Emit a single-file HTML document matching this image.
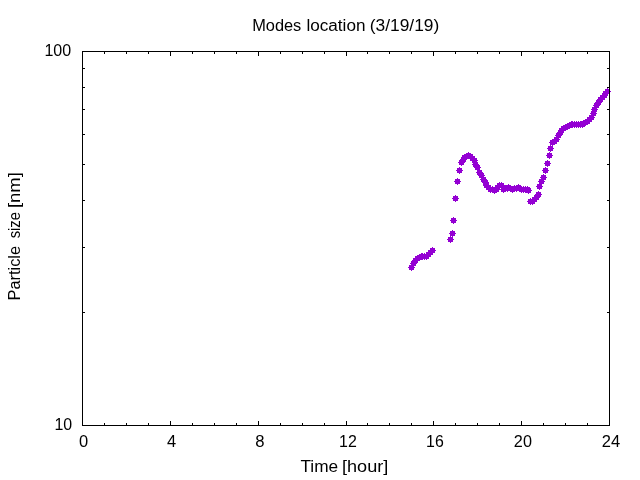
<!DOCTYPE html>
<html><head><meta charset="utf-8"><title>Modes location</title>
<style>
html,body{margin:0;padding:0;background:#fff;}
svg{display:block;}
text{font-family:"Liberation Sans",sans-serif;font-size:16px;fill:#000;}
</style></head><body>
<svg width="640" height="480" viewBox="0 0 640 480">
<rect width="640" height="480" fill="#fff"/>
<defs><path id="p" d="M-2.5-2.5h5v5h-5zM-3.5-.5h7v1h-7zM-.5-3.5h1v7h-1z"/></defs>

<g fill="#9400d3" shape-rendering="crispEdges">
<use href="#p" x="411.5" y="267.5"/>
<use href="#p" x="413.5" y="263.5"/>
<use href="#p" x="415.5" y="260.5"/>
<use href="#p" x="417.5" y="258.5"/>
<use href="#p" x="419.5" y="257.5"/>
<use href="#p" x="421.5" y="256.5"/>
<use href="#p" x="422.5" y="256.5"/>
<use href="#p" x="424.5" y="256.5"/>
<use href="#p" x="426.5" y="256.5"/>
<use href="#p" x="428.5" y="254.5"/>
<use href="#p" x="430.5" y="252.5"/>
<use href="#p" x="432.5" y="250.5"/>
<use href="#p" x="450.5" y="239.5"/>
<use href="#p" x="452.5" y="233.5"/>
<use href="#p" x="453.5" y="220.5"/>
<use href="#p" x="455.5" y="198.5"/>
<use href="#p" x="457.5" y="181.5"/>
<use href="#p" x="459.5" y="170.5"/>
<use href="#p" x="461.5" y="162.5"/>
<use href="#p" x="463.5" y="159.5"/>
<use href="#p" x="464.5" y="157.5"/>
<use href="#p" x="466.5" y="156.5"/>
<use href="#p" x="468.5" y="155.5"/>
<use href="#p" x="470.5" y="156.5"/>
<use href="#p" x="472.5" y="158.5"/>
<use href="#p" x="474.5" y="160.5"/>
<use href="#p" x="475.5" y="164.5"/>
<use href="#p" x="477.5" y="167.5"/>
<use href="#p" x="479.5" y="172.5"/>
<use href="#p" x="481.5" y="175.5"/>
<use href="#p" x="483.5" y="179.5"/>
<use href="#p" x="485.5" y="182.5"/>
<use href="#p" x="486.5" y="185.5"/>
<use href="#p" x="488.5" y="187.5"/>
<use href="#p" x="490.5" y="189.5"/>
<use href="#p" x="492.5" y="189.5"/>
<use href="#p" x="494.5" y="190.5"/>
<use href="#p" x="496.5" y="189.5"/>
<use href="#p" x="497.5" y="187.5"/>
<use href="#p" x="499.5" y="185.5"/>
<use href="#p" x="501.5" y="185.5"/>
<use href="#p" x="503.5" y="189.5"/>
<use href="#p" x="505.5" y="188.5"/>
<use href="#p" x="507.5" y="188.5"/>
<use href="#p" x="508.5" y="187.5"/>
<use href="#p" x="510.5" y="188.5"/>
<use href="#p" x="512.5" y="189.5"/>
<use href="#p" x="514.5" y="188.5"/>
<use href="#p" x="516.5" y="188.5"/>
<use href="#p" x="518.5" y="187.5"/>
<use href="#p" x="519.5" y="188.5"/>
<use href="#p" x="521.5" y="189.5"/>
<use href="#p" x="523.5" y="189.5"/>
<use href="#p" x="525.5" y="189.5"/>
<use href="#p" x="527.5" y="189.5"/>
<use href="#p" x="528.5" y="190.5"/>
<use href="#p" x="530.5" y="201.5"/>
<use href="#p" x="532.5" y="201.5"/>
<use href="#p" x="534.5" y="199.5"/>
<use href="#p" x="536.5" y="197.5"/>
<use href="#p" x="538.5" y="194.5"/>
<use href="#p" x="539.5" y="186.5"/>
<use href="#p" x="541.5" y="181.5"/>
<use href="#p" x="543.5" y="177.5"/>
<use href="#p" x="545.5" y="170.5"/>
<use href="#p" x="547.5" y="163.5"/>
<use href="#p" x="549.5" y="155.5"/>
<use href="#p" x="550.5" y="148.5"/>
<use href="#p" x="552.5" y="142.5"/>
<use href="#p" x="554.5" y="141.5"/>
<use href="#p" x="556.5" y="139.5"/>
<use href="#p" x="558.5" y="135.5"/>
<use href="#p" x="560.5" y="132.5"/>
<use href="#p" x="561.5" y="130.5"/>
<use href="#p" x="563.5" y="128.5"/>
<use href="#p" x="565.5" y="127.5"/>
<use href="#p" x="567.5" y="126.5"/>
<use href="#p" x="569.5" y="125.5"/>
<use href="#p" x="571.5" y="124.5"/>
<use href="#p" x="572.5" y="124.5"/>
<use href="#p" x="574.5" y="124.5"/>
<use href="#p" x="576.5" y="124.5"/>
<use href="#p" x="578.5" y="124.5"/>
<use href="#p" x="580.5" y="124.5"/>
<use href="#p" x="582.5" y="124.5"/>
<use href="#p" x="583.5" y="123.5"/>
<use href="#p" x="585.5" y="122.5"/>
<use href="#p" x="587.5" y="121.5"/>
<use href="#p" x="589.5" y="119.5"/>
<use href="#p" x="591.5" y="117.5"/>
<use href="#p" x="593.5" y="113.5"/>
<use href="#p" x="594.5" y="109.5"/>
<use href="#p" x="596.5" y="105.5"/>
<use href="#p" x="598.5" y="102.5"/>
<use href="#p" x="600.5" y="99.5"/>
<use href="#p" x="602.5" y="97.5"/>
<use href="#p" x="604.5" y="95.5"/>
<use href="#p" x="605.5" y="93.5"/>
<use href="#p" x="607.5" y="91.5"/>
</g>
<path d="M82.5 425.5v-4.5M82.5 51.5v4.5M104.5 425.5v-2.5M104.5 51.5v2.5M126.5 425.5v-2.5M126.5 51.5v2.5M148.5 425.5v-2.5M148.5 51.5v2.5M170.5 425.5v-4.5M170.5 51.5v4.5M192.5 425.5v-2.5M192.5 51.5v2.5M214.5 425.5v-2.5M214.5 51.5v2.5M236.5 425.5v-2.5M236.5 51.5v2.5M258.5 425.5v-4.5M258.5 51.5v4.5M280.5 425.5v-2.5M280.5 51.5v2.5M302.5 425.5v-2.5M302.5 51.5v2.5M324.5 425.5v-2.5M324.5 51.5v2.5M346.5 425.5v-4.5M346.5 51.5v4.5M367.5 425.5v-2.5M367.5 51.5v2.5M389.5 425.5v-2.5M389.5 51.5v2.5M411.5 425.5v-2.5M411.5 51.5v2.5M433.5 425.5v-4.5M433.5 51.5v4.5M455.5 425.5v-2.5M455.5 51.5v2.5M477.5 425.5v-2.5M477.5 51.5v2.5M499.5 425.5v-2.5M499.5 51.5v2.5M521.5 425.5v-4.5M521.5 51.5v4.5M543.5 425.5v-2.5M543.5 51.5v2.5M565.5 425.5v-2.5M565.5 51.5v2.5M587.5 425.5v-2.5M587.5 51.5v2.5M609.5 425.5v-4.5M609.5 51.5v4.5M82.5 312.5h2.5M609.5 312.5h-2.5M82.5 247.5h2.5M609.5 247.5h-2.5M82.5 200.5h2.5M609.5 200.5h-2.5M82.5 164.5h2.5M609.5 164.5h-2.5M82.5 134.5h2.5M609.5 134.5h-2.5M82.5 109.5h2.5M609.5 109.5h-2.5M82.5 87.5h2.5M609.5 87.5h-2.5M82.5 68.5h2.5M609.5 68.5h-2.5M82.5 51.5h4.5M609.5 51.5h-4.5M82.5 425.5h4.5M609.5 425.5h-4.5" stroke="#000" stroke-width="1" fill="none" shape-rendering="crispEdges"/>
<rect x="82.5" y="51.5" width="527.0" height="374.0" fill="none" stroke="#000" stroke-width="1" shape-rendering="crispEdges"/>
<text y="30.7"><tspan x="252.15" textLength="49.16" lengthAdjust="spacingAndGlyphs">Modes</tspan> <tspan x="306.44" textLength="59.03" lengthAdjust="spacingAndGlyphs">location</tspan> <tspan x="369.75" textLength="69.49" lengthAdjust="spacingAndGlyphs">(3/19/19)</tspan></text>
<text y="471.6"><tspan x="300.43" textLength="37.66" lengthAdjust="spacingAndGlyphs">Time</tspan> <tspan x="341.99" textLength="46.26" lengthAdjust="spacingAndGlyphs">[hour]</tspan></text>
<text transform="translate(19.8,0) rotate(-90)" y="0"><tspan x="-300.5" textLength="54.54" lengthAdjust="spacingAndGlyphs">Particle</tspan> <tspan x="-238.35" textLength="26.37" lengthAdjust="spacingAndGlyphs">size</tspan> <tspan x="-208.14" textLength="35.94" lengthAdjust="spacingAndGlyphs">[nm]</tspan></text>
<text x="44.38" y="55.6" textLength="26.7" lengthAdjust="spacingAndGlyphs">100</text>
<text x="54.38" y="429.7" textLength="17.71" lengthAdjust="spacingAndGlyphs">10</text>
<text x="79.11" y="446.9" textLength="9.18" lengthAdjust="spacingAndGlyphs">0</text>
<text x="166.9" y="446.9" textLength="9.16" lengthAdjust="spacingAndGlyphs">4</text>
<text x="255.29" y="446.9" textLength="9.27" lengthAdjust="spacingAndGlyphs">8</text>
<text x="339.1" y="446.9" textLength="17.74" lengthAdjust="spacingAndGlyphs">12</text>
<text x="426.12" y="446.9" textLength="17.67" lengthAdjust="spacingAndGlyphs">16</text>
<text x="513.89" y="446.9" textLength="18.02" lengthAdjust="spacingAndGlyphs">20</text>
<text x="601.78" y="446.9" textLength="18.39" lengthAdjust="spacingAndGlyphs">24</text>
</svg></body></html>
